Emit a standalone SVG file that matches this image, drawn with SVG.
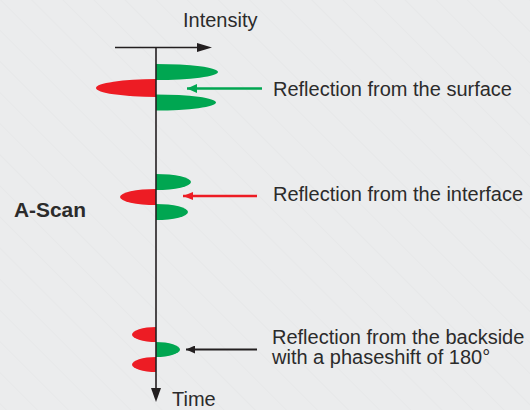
<svg xmlns="http://www.w3.org/2000/svg" width="530" height="410" viewBox="0 0 530 410">
  <defs>
    <pattern id="bgp" width="22" height="22" patternUnits="userSpaceOnUse" patternTransform="rotate(-45)">
      <rect width="22" height="22" fill="#ebeced"/>
      <line x1="0" y1="0" x2="0" y2="22" stroke="#e1e2e3" stroke-width="0.8"/>
    </pattern>
    <marker id="hg" markerWidth="10" markerHeight="9" refX="10" refY="4.5" orient="auto" markerUnits="userSpaceOnUse">
      <path d="M0,0 L10,4.5 L0,9 Z" fill="#00a651"/>
    </marker>
    <marker id="hr" markerWidth="10" markerHeight="8" refX="10" refY="4" orient="auto" markerUnits="userSpaceOnUse">
      <path d="M0,0 L10,4 L0,8 Z" fill="#ed1c24"/>
    </marker>
    <marker id="hk" markerWidth="9" markerHeight="8" refX="9" refY="4" orient="auto" markerUnits="userSpaceOnUse">
      <path d="M0,0 L9,4 L0,8 Z" fill="#231f20"/>
    </marker>
  </defs>
  <style>
    .g { fill: #00a651; }
    .r { fill: #ed1c24; }
    .axis { stroke: #231f20; stroke-width: 1.6; fill: none; }
    .head { fill: #231f20; }
    .t { font-family: "Liberation Sans", Arial, sans-serif; font-size: 20px; fill: #2b2b2b; }
    .b { font-weight: bold; }
  </style>
  <rect width="530" height="410" fill="url(#bgp)"/>

  <g id="echo-surface">
    <path class="g" d="M156,64 A62,8 0 0 1 156,80 Z"/>
    <path class="r" d="M156,79 A60,9 0 0 0 156,97 Z"/>
    <path class="g" d="M156,94.5 A60,8 0 0 1 156,110.5 Z"/>
  </g>
  <g id="echo-interface">
    <path class="g" d="M156,174 A35,8 0 0 1 156,190 Z"/>
    <path class="r" d="M156,189 A36,8 0 0 0 156,205 Z"/>
    <path class="g" d="M156,204 A32,8 0 0 1 156,220 Z"/>
  </g>
  <g id="echo-backside">
    <path class="r" d="M156,327 A24,7.5 0 0 0 156,342 Z"/>
    <path class="g" d="M156,342 A24,7.5 0 0 1 156,357 Z"/>
    <path class="r" d="M156,357 A24,7.5 0 0 0 156,372 Z"/>
  </g>

  <g id="axes">
    <line class="axis" x1="115" y1="47.5" x2="200" y2="47.5"/>
    <path class="head" d="M197,43 L212,47.5 L197,52 Z"/>
    <line class="axis" x1="156" y1="47" x2="156" y2="390"/>
    <path class="head" d="M151,388 L161,388 L156,402 Z"/>
    <text class="t" x="183" y="27">Intensity</text>
    <text class="t" x="172" y="406">Time</text>
  </g>

  <g id="title">
    <text class="t b" x="14" y="217" font-size="19" textLength="72" lengthAdjust="spacingAndGlyphs">A-Scan</text>
  </g>

  <g id="label-surface">
    <text class="t" x="273" y="96">Reflection from the surface</text>
  </g>
  <g id="label-interface">
    <text class="t" x="273" y="201">Reflection from the interface</text>
  </g>
  <g id="label-backside">
    <text class="t" x="272" y="344">Reflection from the backside</text>
    <text class="t" x="272" y="364">with a phaseshift of 180°</text>
  </g>

  <g id="connectors">
    <line x1="262" y1="88.5" x2="187" y2="88.5" stroke="#00a651" stroke-width="2.6" marker-end="url(#hg)"/>
    <line x1="257" y1="196" x2="183" y2="196" stroke="#ed1c24" stroke-width="2.4" marker-end="url(#hr)"/>
    <line x1="257" y1="349.5" x2="186" y2="349.5" stroke="#231f20" stroke-width="2.2" marker-end="url(#hk)"/>
  </g>
</svg>
